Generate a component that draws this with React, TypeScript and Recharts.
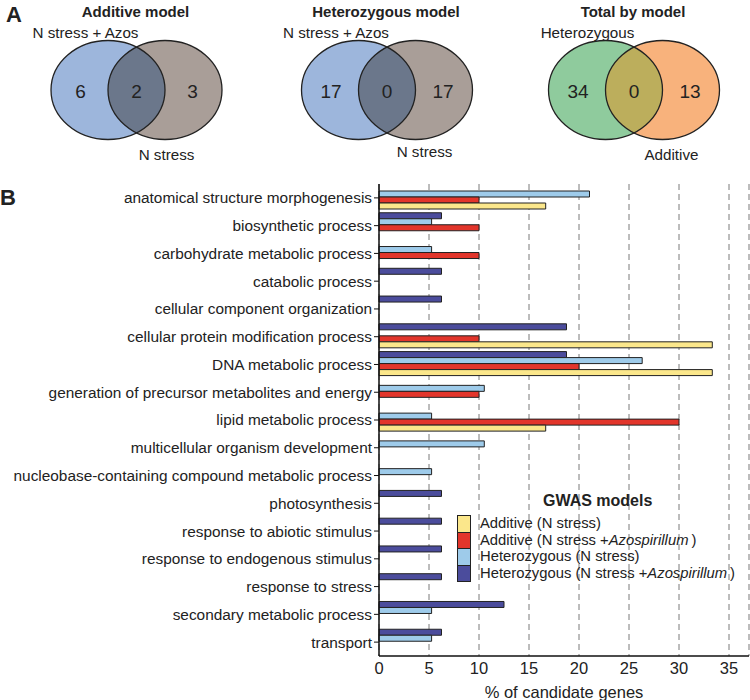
import React from 'react';
import { BarChart, Bar, XAxis, YAxis, CartesianGrid, ScatterChart, Scatter } from 'recharts';

// Venn diagrams (panel A)
const vennTitles = ['Additive model', 'Heterozygous model', 'Total by model'];
const vennSetA = ['N stress + Azos', 'N stress + Azos', 'Heterozygous'];
const vennSetB = ['N stress', 'N stress', 'Additive'];
const vennOnlyA = [6, 17, 34];
const vennShared = [2, 0, 0];
const vennOnlyB = [3, 17, 13];

// GO categories (panel B), % of candidate genes
const categories = [
  'anatomical structure morphogenesis',
  'biosynthetic process',
  'carbohydrate metabolic process',
  'catabolic process',
  'cellular component organization',
  'cellular protein modification process',
  'DNA metabolic process',
  'generation of precursor metabolites and energy',
  'lipid metabolic process',
  'multicellular organism development',
  'nucleobase-containing compound metabolic process',
  'photosynthesis',
  'response to abiotic stimulus',
  'response to endogenous stimulus',
  'response to stress',
  'secondary metabolic process',
  'transport',
];
const additiveN = [16.67, 0, 0, 0, 0, 33.33, 33.33, 0, 16.67, 0, 0, 0, 0, 0, 0, 0, 0];
const additiveAzos = [10, 10, 10, 0, 0, 10, 20, 10, 30, 0, 0, 0, 0, 0, 0, 0, 0];
const heteroN = [21.05, 5.26, 5.26, 0, 0, 0, 26.32, 10.53, 5.26, 10.53, 5.26, 0, 0, 0, 0, 5.26, 5.26];
const heteroAzos = [0, 6.25, 0, 6.25, 6.25, 18.75, 18.75, 0, 0, 0, 0, 6.25, 6.25, 6.25, 6.25, 12.5, 6.25];
const xTicks = [0, 5, 10, 15, 20, 25, 30, 35];

const FONT = '"Liberation Sans", Arial, Helvetica, sans-serif';
const INK = '#222';

// bar order top -> bottom inside each category
const series = [
  { key: 'hetAzos', color: '#4b4c9c' },
  { key: 'hetN', color: '#9ecbea' },
  { key: 'addAzos', color: '#e2352b' },
  { key: 'addN', color: '#fbe78b' },
];

const legendItems = [
  { color: '#fbe78b', label: 'Additive (N stress', italic: '' },
  { color: '#e2352b', label: 'Additive (N stress +', italic: 'Azospirillum' },
  { color: '#9ecbea', label: 'Heterozygous (N stress', italic: '' },
  { color: '#4b4c9c', label: 'Heterozygous (N stress +', italic: 'Azospirillum' },
];

const barData = categories.map((name, i) => ({
  name,
  addN: additiveN[i],
  addAzos: additiveAzos[i],
  hetN: heteroN[i],
  hetAzos: heteroAzos[i],
}));

// layout for each venn (centre x in px, colours, label offsets)
const VENN_LAYOUT = [
  { cx: 136.5, a: '#9db6dc', b: '#a99e98', ab: '#6b778b', topDx: -51, botDx: 30, botDy: 70 },
  { cx: 387, a: '#9db6dc', b: '#a99e98', ab: '#6b778b', topDx: -51, botDx: 37.5, botDy: 67 },
  { cx: 634, a: '#8fcb9d', b: '#f8b27c', ab: '#bcae5c', topDx: -46.5, botDx: 37.5, botDy: 70 },
];

const vennData = vennTitles.map((title, i) => ({
  x: VENN_LAYOUT[i].cx,
  y: 90,
  idx: i,
  title,
  setA: vennSetA[i],
  setB: vennSetB[i],
  onlyA: vennOnlyA[i],
  shared: vennShared[i],
  onlyB: vennOnlyB[i],
}));

function VennShape(props: any) {
  const { cx, cy, payload } = props;
  const st = VENN_LAYOUT[payload.idx];
  const d = 28.5;
  const rx = 57;
  const ry = 49.5;
  const clipId = `venn-clip-${payload.idx}`;
  return (
    <g>
      <defs>
        <clipPath id={clipId}>
          <ellipse cx={cx + d} cy={cy} rx={rx} ry={ry} />
        </clipPath>
      </defs>
      <ellipse cx={cx - d} cy={cy} rx={rx} ry={ry} fill={st.a} />
      <ellipse cx={cx + d} cy={cy} rx={rx} ry={ry} fill={st.b} />
      <ellipse cx={cx - d} cy={cy} rx={rx} ry={ry} fill={st.ab} clipPath={`url(#${clipId})`} />
      <ellipse cx={cx - d} cy={cy} rx={rx} ry={ry} fill="none" stroke={INK} strokeWidth={1.3} />
      <ellipse cx={cx + d} cy={cy} rx={rx} ry={ry} fill="none" stroke={INK} strokeWidth={1.3} />
      <text x={cx - 1} y={17} textAnchor="middle" fontSize={15} fontWeight="bold" fill={INK}>
        {payload.title}
      </text>
      <text x={cx + st.topDx} y={cy - 52} textAnchor="middle" fontSize={15.2} fill={INK}>
        {payload.setA}
      </text>
      <text x={cx + st.botDx} y={cy + st.botDy} textAnchor="middle" fontSize={15.2} fill={INK}>
        {payload.setB}
      </text>
      <text x={cx - 56} y={cy + 8} textAnchor="middle" fontSize={19} fill={INK}>
        {payload.onlyA}
      </text>
      <text x={cx} y={cy + 8} textAnchor="middle" fontSize={19} fill={INK}>
        {payload.shared}
      </text>
      <text x={cx + 56} y={cy + 8} textAnchor="middle" fontSize={19} fill={INK}>
        {payload.onlyB}
      </text>
    </g>
  );
}

const ROW = 16.5;

function GwasLegend() {
  return (
    <>
      <div
        style={{
          position: 'absolute',
          left: 543,
          top: 491,
          fontSize: 16,
          fontWeight: 'bold',
          lineHeight: '20px',
          color: INK,
        }}
      >
        GWAS models
      </div>
      <div style={{ position: 'absolute', left: 457, top: 515 }}>
        {legendItems.map((it) => (
          <div key={it.color} style={{ display: 'flex', alignItems: 'center', height: ROW }}>
            <span
              style={{
                width: 14,
                height: ROW + 1,
                boxSizing: 'border-box',
                border: `1px solid ${INK}`,
                background: it.color,
                marginBottom: -1,
              }}
            />
            <span
              style={{
                marginLeft: 9,
                fontSize: 14.8,
                lineHeight: `${ROW}px`,
                color: INK,
                whiteSpace: 'nowrap',
              }}
            >
              {it.label}
              {it.italic && <i>{it.italic}</i>}
              {it.italic ? '\u2009)' : ')'}
            </span>
          </div>
        ))}
      </div>
    </>
  );
}

export default function App() {
  return (
    <div
      style={{
        position: 'absolute',
        left: 0,
        top: 0,
        width: 750,
        height: 700,
        background: '#fff',
        fontFamily: FONT,
        color: INK,
      }}
    >
      <div style={{ position: 'absolute', left: 6, top: 2, fontSize: 22, fontWeight: 'bold' }}>A</div>
      <div style={{ position: 'absolute', left: 0, top: 185, fontSize: 22, fontWeight: 'bold' }}>B</div>

      <div style={{ position: 'absolute', left: 0, top: 0 }}>
        <ScatterChart width={750} height={175} margin={{ top: 0, right: 0, bottom: 0, left: 0 }}>
          <XAxis type="number" dataKey="x" domain={[0, 750]} hide />
          <YAxis type="number" dataKey="y" domain={[0, 175]} reversed hide />
          <Scatter data={vennData} shape={<VennShape />} isAnimationActive={false} />
        </ScatterChart>
      </div>

      <div style={{ position: 'absolute', left: 0, top: 175 }}>
        <BarChart
          width={750}
          height={525}
          data={barData}
          layout="vertical"
          margin={{ top: 9, right: 1, bottom: 0, left: 0 }}
          barGap={0}
          barCategoryGap={1}
        >
          <CartesianGrid horizontal={false} stroke="#7a7a7a" strokeDasharray="6 4" />
          <XAxis
            type="number"
            domain={[0, 37]}
            ticks={xTicks}
            height={44}
            axisLine={{ stroke: '#111', strokeWidth: 1.5 }}
            tickLine={false}
            tickSize={0}
            tickMargin={6}
            tick={{ fontSize: 16.5, fill: INK }}
            label={{ value: '% of candidate genes', position: 'insideBottom', offset: 2, fontSize: 16.5, fill: INK }}
          />
          <YAxis
            type="category"
            dataKey="name"
            width={379}
            interval={0}
            axisLine={{ stroke: '#111', strokeWidth: 1.5 }}
            tickLine={{ stroke: '#111' }}
            tickSize={5}
            tickMargin={2}
            tick={{ fontSize: 15.4, fill: INK }}
          />
          {series.map((s) => (
            <Bar key={s.key} dataKey={s.key} fill={s.color} stroke={INK} strokeWidth={1} isAnimationActive={false} />
          ))}
        </BarChart>
      </div>

      <GwasLegend />
    </div>
  );
}
